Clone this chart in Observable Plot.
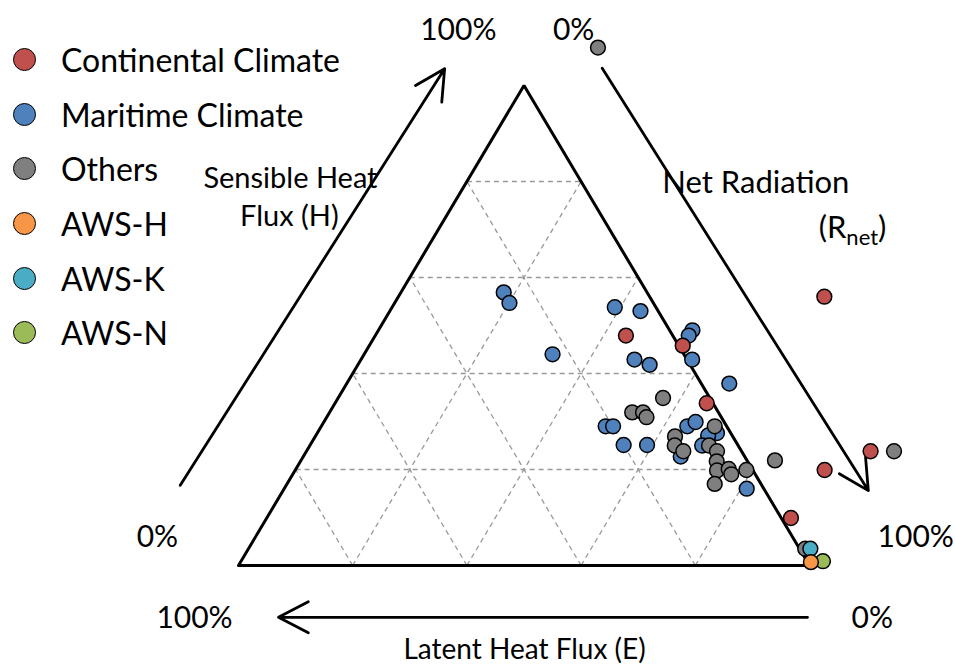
<!DOCTYPE html>
<html><head><meta charset="utf-8">
<script src="https://cdn.jsdelivr.net/npm/d3@7"></script>
<script src="https://cdn.jsdelivr.net/npm/@observablehq/plot@0.6"></script>
<style>
body{margin:0;background:#fff;font-family:Lato,sans-serif;}
#wrap{position:relative;width:955px;height:666px;}
.item{position:absolute;left:13px;height:26px;display:flex;align-items:center;font-size:32px;color:#000;white-space:nowrap;}
.sw{width:21px;height:21px;border:1.6px solid #000;border-radius:50%;margin-right:25px;flex:none;}
</style></head><body><div id="wrap"></div>
<script>
// Ternary values in percent: H = sensible heat share, R = net radiation share (E = 100 - H - R)
const groupNames = ["Continental Climate","Maritime Climate","Others","AWS-H","AWS-K","AWS-N"];
const groupColors = ["#c0504d","#4f81bd","#7f7f7f","#f79646","#4bacc6","#9bbb59"];

const contH = [47.9,45.8,33.8,56.0,23.8,19.9,9.9];
const contR = [43.9,54.9,65.1,74.6,98.8,92.7,91.8];

const mariH = [56.9,54.7,53.8,53.0,49.0,47.9,42.9,44.0,42.9,41.8,37.9,29.0,29.0,29.0,29.9,27.6,27.1,25.0,25.1,25.1,22.7,16.0];
const mariR = [18.0,20.1,39.0,43.9,55.0,54.9,58.0,33.0,47.9,51.1,67.0,49.8,51.1,64.1,65.1,70.0,68.7,68.7,54.9,59.0,66.1,81.0];

const othH = [107.9,34.9,31.9,31.9,30.9,29.0,26.9,25.0,25.0,23.8,23.8,21.7,19.8,20.1,19.0,19.9,17.0,21.9,23.8,3.5];
const othR = [9.0,56.9,53.0,54.9,56.0,68.9,63.0,63.9,69.9,66.0,71.9,72.9,73.9,75.8,76.8,79.0,74.9,83.0,102.9,97.5];

const awsKH = [3.5], awsKR = [98.4];
const awsNH = [0.9], awsNR = [101.9];
const awsHH = [0.7], awsHR = [99.9];

const gridLevels = [20,40,60,80];

const tern = (h, r) => ({x: (r + h/2)/100, y: h/100});

const groups = [
  {name:"Maritime Climate", H:mariH, R:mariR},
  {name:"Others", H:othH, R:othR},
  {name:"Continental Climate", H:contH, R:contR},
  {name:"AWS-K", H:awsKH, R:awsKR},
  {name:"AWS-N", H:awsNH, R:awsNR},
  {name:"AWS-H", H:awsHH, R:awsHR}
];
const points = [];
for (const g of groups) g.H.forEach((h,i)=>points.push({...tern(h,g.R[i]), group:g.name}));

const grid = [];
for (const k of gridLevels) {
  const a = tern(k,0), b = tern(k,100-k); grid.push({x1:a.x,y1:a.y,x2:b.x,y2:b.y});
  const c = tern(0,k), d = tern(100-k,k); grid.push({x1:c.x,y1:c.y,x2:d.x,y2:d.y});
  const e = tern(0,100-k), f = tern(100-k,0); grid.push({x1:e.x,y1:e.y,x2:f.x,y2:f.y});
}
const tri = [tern(0,0), tern(0,100), tern(100,0), tern(0,0)];

// axis arrows (cartesian ternary units, placed outside the triangle)
const arrows = [
  {x1:-0.102,y1:0.167,x2:0.361,y2:1.035},
  {x1:0.637,y1:1.036,x2:1.103,y2:0.156},
  {x1:0.9965,y1:-0.108,x2:0.070,y2:-0.108}
];
const tickLabels = [
  {x:0.385,y:1.115,t:"100%"},{x:0.587,y:1.115,t:"0%"},
  {x:-0.142,y:0.058,t:"0%"},{x:1.186,y:0.058,t:"100%"},
  {x:-0.077,y:-0.110,t:"100%"},{x:1.110,y:-0.110,t:"0%"}
];
const titles = [
  {x:0.091,y:0.806,t:"Sensible Heat",a:"middle",s:29},
  {x:0.089,y:0.727,t:"Flux (H)",a:"middle",s:29},
  {x:0.906,y:0.796,t:"Net Radiation",a:"middle",s:31},
  {x:1.0753,y:0.702,t:"(Rnet)",a:"end",s:31},
  {x:0.501,y:-0.177,t:"Latent Heat Flux (E)",a:"middle",s:28}
];

const chart = Plot.plot({
  width:955, height:666, margin:0,
  style:{fontFamily:"Lato, sans-serif", background:"#fff", overflow:"visible"},
  x:{domain:[0,1], range:[238,809], axis:null},
  y:{domain:[0,1], range:[565,85], axis:null},
  color:{domain:groupNames, range:groupColors},
  marks:[
    Plot.link(grid,{x1:"x1",y1:"y1",x2:"x2",y2:"y2",stroke:"#999",strokeWidth:1.3,strokeDasharray:"5,4"}),
    Plot.line(tri,{x:"x",y:"y",stroke:"#000",strokeWidth:3,strokeLinejoin:"miter"}),
    Plot.arrow(arrows,{x1:"x1",y1:"y1",x2:"x2",y2:"y2",stroke:"#000",strokeWidth:2.8,headLength:18,headAngle:55}),
    Plot.text(tickLabels,{x:"x",y:"y",text:"t",fontSize:30,fill:"#000"}),
    Plot.text(titles,{x:"x",y:"y",text:"t",textAnchor:"a",fontSize:"s",fill:"#000"}),
    Plot.dot(points,{x:"x",y:"y",fill:"group",r:7.4,stroke:"#000",strokeWidth:1.5})
  ]
});
const wrap = document.getElementById("wrap");
wrap.appendChild(chart);

// subscript for R_net
d3.select(chart).selectAll("text").each(function(){
  if (this.textContent === "(Rnet)") {
    const t = d3.select(this); t.text("");
    t.append("tspan").text("(R");
    t.append("tspan").attr("dy","7").attr("font-size","22").text("net");
    t.append("tspan").attr("dy","-7").text(")");
  }
});

// legend
const legendY = [59,114,168,223,278,332];
groupNames.forEach((n,i)=>{
  const it = document.createElement("div");
  it.className="item"; it.style.top=(legendY[i]-13)+"px";
  it.innerHTML = `<span class="sw" style="background:${groupColors[i]}"></span><span>${n}</span>`;
  wrap.appendChild(it);
});
</script>
</body></html>
